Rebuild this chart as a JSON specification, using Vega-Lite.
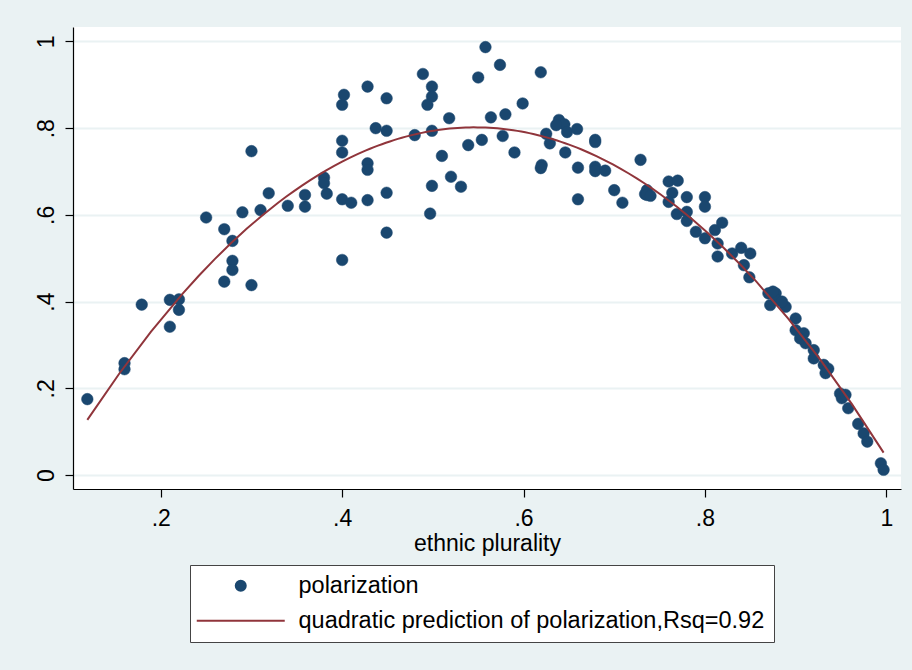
{
  "$schema": "https://vega.github.io/schema/vega-lite/v6.json",
  "autosize": "none",
  "width": 828,
  "height": 462,
  "padding": {"left": 73, "top": 27, "right": 11, "bottom": 181},
  "background": "#EAF2F3",
  "config": {
    "view": {"fill": "white", "stroke": null},
    "font": "Liberation Sans",
    "axis": {
      "domainColor": "black", "domainWidth": 1.2, "tickColor": "black", "tickWidth": 1.2, "tickSize": 8,
      "labelFont": "Liberation Sans", "labelFontSize": 23, "labelColor": "black",
      "titleFont": "Liberation Sans", "titleFontSize": 23, "titleColor": "black", "titleFontWeight": "normal",
      "gridColor": "#EAF2F3", "gridWidth": 2
    }
  },
  "data": {"values": [
    {"plur": 0.119, "pol": 0.175}, {"plur": 0.160, "pol": 0.258}, {"plur": 0.160, "pol": 0.244},
    {"plur": 0.179, "pol": 0.393}, {"plur": 0.210, "pol": 0.404}, {"plur": 0.220, "pol": 0.405},
    {"plur": 0.220, "pol": 0.381}, {"plur": 0.210, "pol": 0.342}, {"plur": 0.250, "pol": 0.594},
    {"plur": 0.270, "pol": 0.567}, {"plur": 0.279, "pol": 0.540}, {"plur": 0.279, "pol": 0.494},
    {"plur": 0.279, "pol": 0.473}, {"plur": 0.270, "pol": 0.446}, {"plur": 0.300, "pol": 0.438},
    {"plur": 0.300, "pol": 0.747}, {"plur": 0.290, "pol": 0.606}, {"plur": 0.310, "pol": 0.611},
    {"plur": 0.319, "pol": 0.650}, {"plur": 0.340, "pol": 0.621}, {"plur": 0.359, "pol": 0.646},
    {"plur": 0.359, "pol": 0.619}, {"plur": 0.380, "pol": 0.686}, {"plur": 0.380, "pol": 0.673},
    {"plur": 0.383, "pol": 0.649}, {"plur": 0.400, "pol": 0.636}, {"plur": 0.410, "pol": 0.628},
    {"plur": 0.428, "pol": 0.634}, {"plur": 0.400, "pol": 0.496}, {"plur": 0.400, "pol": 0.854},
    {"plur": 0.402, "pol": 0.877}, {"plur": 0.400, "pol": 0.771}, {"plur": 0.400, "pol": 0.744},
    {"plur": 0.428, "pol": 0.896}, {"plur": 0.428, "pol": 0.719}, {"plur": 0.428, "pol": 0.704},
    {"plur": 0.437, "pol": 0.800}, {"plur": 0.449, "pol": 0.794}, {"plur": 0.449, "pol": 0.869},
    {"plur": 0.449, "pol": 0.651}, {"plur": 0.449, "pol": 0.559}, {"plur": 0.480, "pol": 0.784},
    {"plur": 0.489, "pol": 0.925}, {"plur": 0.499, "pol": 0.896}, {"plur": 0.499, "pol": 0.873},
    {"plur": 0.494, "pol": 0.854}, {"plur": 0.499, "pol": 0.794}, {"plur": 0.499, "pol": 0.667},
    {"plur": 0.497, "pol": 0.603}, {"plur": 0.510, "pol": 0.736}, {"plur": 0.518, "pol": 0.823},
    {"plur": 0.520, "pol": 0.688}, {"plur": 0.531, "pol": 0.665}, {"plur": 0.539, "pol": 0.761},
    {"plur": 0.550, "pol": 0.917}, {"plur": 0.558, "pol": 0.987}, {"plur": 0.554, "pol": 0.773},
    {"plur": 0.564, "pol": 0.825}, {"plur": 0.574, "pol": 0.946}, {"plur": 0.619, "pol": 0.929},
    {"plur": 0.599, "pol": 0.857}, {"plur": 0.580, "pol": 0.832}, {"plur": 0.577, "pol": 0.782},
    {"plur": 0.590, "pol": 0.744}, {"plur": 0.625, "pol": 0.787}, {"plur": 0.629, "pol": 0.765},
    {"plur": 0.639, "pol": 0.819}, {"plur": 0.645, "pol": 0.809}, {"plur": 0.648, "pol": 0.791},
    {"plur": 0.636, "pol": 0.807}, {"plur": 0.659, "pol": 0.798}, {"plur": 0.646, "pol": 0.744},
    {"plur": 0.620, "pol": 0.715}, {"plur": 0.619, "pol": 0.708}, {"plur": 0.660, "pol": 0.709},
    {"plur": 0.660, "pol": 0.636}, {"plur": 0.679, "pol": 0.773}, {"plur": 0.679, "pol": 0.768},
    {"plur": 0.679, "pol": 0.711}, {"plur": 0.679, "pol": 0.701}, {"plur": 0.690, "pol": 0.702},
    {"plur": 0.700, "pol": 0.657}, {"plur": 0.709, "pol": 0.628}, {"plur": 0.729, "pol": 0.727},
    {"plur": 0.734, "pol": 0.648}, {"plur": 0.736, "pol": 0.657}, {"plur": 0.736, "pol": 0.646},
    {"plur": 0.740, "pol": 0.644}, {"plur": 0.760, "pol": 0.677}, {"plur": 0.770, "pol": 0.679},
    {"plur": 0.764, "pol": 0.651}, {"plur": 0.760, "pol": 0.630}, {"plur": 0.780, "pol": 0.641},
    {"plur": 0.800, "pol": 0.641}, {"plur": 0.800, "pol": 0.619}, {"plur": 0.769, "pol": 0.602},
    {"plur": 0.780, "pol": 0.607}, {"plur": 0.780, "pol": 0.586}, {"plur": 0.790, "pol": 0.561},
    {"plur": 0.800, "pol": 0.546}, {"plur": 0.811, "pol": 0.565}, {"plur": 0.819, "pol": 0.582},
    {"plur": 0.814, "pol": 0.534}, {"plur": 0.814, "pol": 0.504}, {"plur": 0.830, "pol": 0.511},
    {"plur": 0.840, "pol": 0.524}, {"plur": 0.850, "pol": 0.511}, {"plur": 0.843, "pol": 0.484},
    {"plur": 0.849, "pol": 0.456}, {"plur": 0.870, "pol": 0.419}, {"plur": 0.878, "pol": 0.419},
    {"plur": 0.879, "pol": 0.404}, {"plur": 0.872, "pol": 0.392}, {"plur": 0.875, "pol": 0.423},
    {"plur": 0.889, "pol": 0.388}, {"plur": 0.885, "pol": 0.400}, {"plur": 0.900, "pol": 0.361},
    {"plur": 0.900, "pol": 0.334}, {"plur": 0.909, "pol": 0.327}, {"plur": 0.911, "pol": 0.304},
    {"plur": 0.905, "pol": 0.315}, {"plur": 0.920, "pol": 0.288}, {"plur": 0.920, "pol": 0.269},
    {"plur": 0.931, "pol": 0.254}, {"plur": 0.933, "pol": 0.235}, {"plur": 0.936, "pol": 0.245},
    {"plur": 0.949, "pol": 0.188}, {"plur": 0.951, "pol": 0.177}, {"plur": 0.955, "pol": 0.185},
    {"plur": 0.958, "pol": 0.154}, {"plur": 0.969, "pol": 0.118}, {"plur": 0.975, "pol": 0.096},
    {"plur": 0.979, "pol": 0.077}, {"plur": 0.994, "pol": 0.027}, {"plur": 0.997, "pol": 0.012}
  ]},
  "encoding": {
    "x": {
      "field": "plur", "type": "quantitative",
      "scale": {"domain": [0.1032, 1.0162], "nice": false, "zero": false},
      "axis": {
        "title": "ethnic plurality", "grid": false,
        "values": [0.2, 0.4, 0.6, 0.8, 1],
        "labelExpr": "datum.value == 1 ? '1' : substring(format(datum.value, '.1f'), 1)",
        "labelBaseline": "alphabetic", "labelPadding": 28,
        "titleBaseline": "alphabetic", "titleY": 61
      }
    },
    "y": {
      "field": "pol", "type": "quantitative",
      "scale": {"domain": [-0.0323, 1.0334], "nice": false, "zero": false},
      "axis": {
        "title": null, "grid": true,
        "values": [0, 0.2, 0.4, 0.6, 0.8, 1],
        "labelExpr": "datum.value == 0 ? '0' : datum.value == 1 ? '1' : substring(format(datum.value, '.1f'), 1)",
        "labelAngle": -90, "labelAlign": "center", "labelBaseline": "bottom", "labelPadding": 7
      }
    }
  },
  "layer": [
    {
      "mark": {"type": "point", "filled": true, "size": 135, "opacity": 1, "strokeWidth": 0.5},
      "encoding": {
        "fill": {
          "datum": "polarization",
          "scale": {"domain": ["polarization", "quadratic prediction of polarization,Rsq=0.92"], "range": ["#1A476F", "transparent"]},
          "legend": {
            "title": null, "orient": "none", "legendX": 117, "legendY": 538, "direction": "vertical",
            "padding": 9, "strokeColor": "#444444", "fillColor": "white",
            "labelFont": "Liberation Sans", "labelFontSize": 23.5, "labelColor": "black", "labelLimit": 0,
            "symbolSize": 100, "symbolStrokeWidth": 2, "symbolOpacity": 1, "symbolOffset": 30, "labelOffset": 46, "rowPadding": 10
          }
        },
        "stroke": {
          "datum": "polarization",
          "scale": {"domain": ["polarization", "quadratic prediction of polarization,Rsq=0.92"], "range": ["#1A476F", "#90353B"]},
          "legend": {"title": null}
        },
        "shape": {
          "datum": "polarization",
          "scale": {"domain": ["polarization", "quadratic prediction of polarization,Rsq=0.92"], "range": ["circle", "M-8.8,0H8.8"]},
          "legend": {"title": null}
        }
      }
    },
    {
      "transform": [{"regression": "pol", "on": "plur", "method": "poly", "order": 2}],
      "mark": {"type": "line", "strokeWidth": 2},
      "encoding": {
        "stroke": {"datum": "quadratic prediction of polarization,Rsq=0.92"}
      }
    }
  ]
}
